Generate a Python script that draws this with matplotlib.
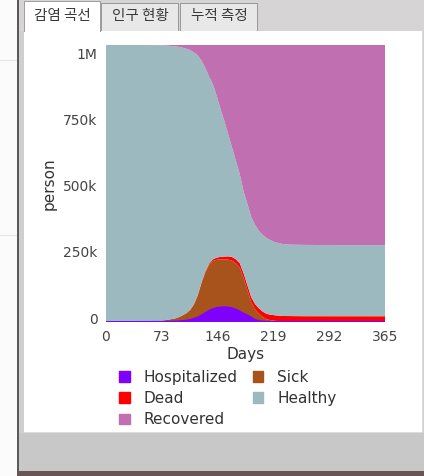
import matplotlib.pyplot as plt
import numpy as np
from matplotlib.patches import Rectangle, Patch
from matplotlib.transforms import ScaledTranslation

# values are in thousands of people
days = [0, 30, 50, 60, 70, 80, 90, 95, 100, 105, 110, 115, 120, 125, 130, 135, 140, 145,
        150, 155, 160, 165, 170, 175, 180, 185, 190, 195, 200, 205, 210, 215, 220, 230,
        240, 260, 300, 365]
hospitalized = [0.3, 0.3, 0.4, 0.5, 0.7, 1.0, 1.5, 2.5, 4, 5.5, 8, 12, 17, 25, 34, 43, 49, 53,
                55, 56, 55, 52, 47, 40, 32, 25, 17, 8, 3.5, 1.8, 1.0, 0.6, 0.4, 0.3,
                0.3, 0.3, 0.3, 0.3]
sick = [0.2, 0.5, 1.1, 2.0, 3.3, 7.0, 11.5, 15.5, 21, 27.5, 37, 54, 83, 123, 154, 173, 182, 183,
        182, 181, 181, 180, 175, 166, 135, 96, 58, 40, 28.5, 17.2, 9.5, 6.4, 4.6, 1.7,
        1.0, 0.3, 0.1, 0.0]
dead = [0, 0, 0, 0, 0, 0, 0.1, 0.2, 0.3, 0.5, 0.8, 1.3, 2, 3, 4, 5.2, 6.5, 8,
        9.5, 11, 12.5, 14, 15.5, 16.8, 17.8, 18.6, 19.2, 19.7, 20, 20.3, 20.5, 20.7, 20.8, 21,
        21.2, 21.4, 21.5, 21.5]
healthy = [1048.5, 1048.2, 1047.5, 1046.5, 1044, 1039, 1030.9, 1023.8, 1013.7, 1001.5, 984.2,
           953.7, 908, 839, 770, 706.8, 662.5, 611, 558.5, 512, 461.5, 414, 372.5, 337.2,
           310.2, 307.4, 303.8, 300.3, 293, 290.7, 287, 282.3, 277.2, 273, 270.5, 270, 269.1, 269.2]
recovered = [0, 0, 0, 0, 1, 2, 5, 7, 10, 14, 19, 28, 39, 59, 87, 121, 149, 194,
             244, 289, 339, 389, 439, 489, 554, 602, 651, 681, 704, 719, 731, 739, 746, 753,
             756, 757, 758, 758]

labels = ["Hospitalized", "Sick", "Dead", "Healthy", "Recovered"]
colors = ["#8000ff", "#a9531c", "#ff0000", "#9bb9be", "#c070b0"]
xticks = [0, 73, 146, 219, 292, 365]
yticks = [0, 250000, 500000, 750000, 1000000]
ytick_labels = ["0", "250k", "500k", "750k", "1M"]
tabs = ["감염 곡선", "인구 현황", "누적 측정"]

W, H = 424, 476
fig = plt.figure(figsize=(W / 100, H / 100), dpi=100)
fig.patch.set_facecolor("#cfcfcf")


def box(x, y, w, h, color, z=-5):
    # rectangle in screen pixels (top-left origin)
    r = Rectangle((x / W, 1 - (y + h) / H), w / W, h / H, transform=fig.transFigure,
                  facecolor=color, edgecolor="none", zorder=z)
    fig.add_artist(r)


# page chrome around the card
box(0, 0, 17, H, "#fbfbfb")
box(0, 60, 17, 1, "#e4e4e4")
box(0, 235, 17, 1, "#e4e4e4")
box(17, 0, 2, 471, "#5a5a5a")
box(19, 0, W - 19, 31, "#d6d4d4")
box(19, 433, W - 19, 38, "#c8c8c8")
box(17, 471, W - 17, 5, "#6a5555")
box(24, 31, 399, 402, "#dcdcdc")
box(24, 31, 398, 401, "white")

# tabs
tab_x = [24, 101, 180]
tab_w = [77, 78, 78]
for i, (tx, tw, name) in enumerate(zip(tab_x, tab_w, tabs)):
    if i == 0:
        box(tx, 1, tw, 31, "#a0a0a0")
        box(tx + 1, 2, tw - 2, 31, "white")
    else:
        box(tx, 3, tw, 28, "#9a9a9a")
        box(tx + 1, 4, tw - 2, 27, "#e8e8e8")
    fig.text((tx + tw / 2) / W, 1 - 16 / H, name, ha="center", va="center",
             fontsize=10.5, color="#3a3a3a", family=["Noto Sans CJK KR", "DejaVu Sans"])

ax = fig.add_axes([106 / W, 1 - 322 / H, 279 / W, 277 / H])
ax.set_facecolor("white")

d = np.array(days)
series = [np.array(s) * 1000 for s in [hospitalized, sick, dead, healthy, recovered]]
ax.stackplot(d, *series, colors=colors, linewidth=0)
ax.plot(d, series[0], color=colors[0], lw=1.3)

ax.set_xlim(0, 365)
ax.set_ylim(0, 1049000)
ax.set_xticks(xticks)
ax.set_yticks(yticks)
ax.set_yticklabels(ytick_labels)
ax.tick_params(length=0, labelsize=10, colors="#444444", pad=6)
shift = ScaledTranslation(0, 4 / 100, fig.dpi_scale_trans)
for lbl in ax.get_yticklabels():
    lbl.set_transform(lbl.get_transform() + shift)
for s in ax.spines.values():
    s.set_visible(False)
ax.set_xlabel("Days", fontsize=11, color="#333333", labelpad=2)
ax.set_ylabel("person", fontsize=11, color="#333333", labelpad=5)

order = [0, 2, 4, 1, 3]
handles = [Patch(color=colors[i]) for i in order]
fig.legend(handles, [labels[i] for i in order], ncol=2, loc="upper left",
           bbox_to_anchor=(119 / W, 1 - 370 / H), frameon=False, fontsize=11,
           handlelength=0.7, handleheight=0.7, handletextpad=0.9, columnspacing=1.0,
           labelspacing=0.4, borderpad=0, borderaxespad=0, labelcolor="#333333")

fig.savefig("out.png", dpi=100)
